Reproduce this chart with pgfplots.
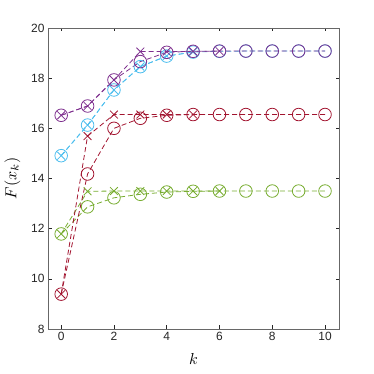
\documentclass[border=0pt]{standalone}
\usepackage{fontspec}
\setmainfont{Liberation Sans}
\usepackage{graphicx}
\usepackage{pgfplots}
\pgfplotsset{compat=1.18}
\definecolor{mpurple}{rgb}{0.494,0.184,0.556}
\definecolor{mcyan}{rgb}{0.301,0.745,0.933}
\definecolor{mred}{rgb}{0.635,0.078,0.184}
\definecolor{mgreen}{rgb}{0.466,0.674,0.188}
\definecolor{axgray}{rgb}{0.15,0.15,0.15}

\begin{document}
\begin{tikzpicture}[x=1bp,y=1bp]
\begin{axis}[
  scale only axis, width=291bp, height=301bp,
  xmin=-0.5, xmax=10.53, ymin=8, ymax=20,
  xtick={0,2,...,10}, ytick={8,10,...,20},
  tick align=inside, major tick length=3.5bp,
  tick style={axgray, line width=0.5bp},
  axis line style={axgray!70, line width=0.7bp},
  ticklabel style={font=\fontsize{12}{14}\selectfont, text=axgray},
  /pgf/number format/assume math mode=true,
  xlabel={\scalebox{1.6}{$k$}},
  ylabel={\scalebox{1.6}{$F(x_k)$}},
  xlabel style={yshift=-6bp},
  ylabel style={yshift=4bp},
  every axis plot/.append style={line width=0.8bp, dash pattern=on 5bp off 3bp},
  mark options={solid, line width=0.8bp},
  clip=false,
]
% cyan
\addplot[mcyan, mark=o, mark size=6.3bp] coordinates
  {(0,14.91) (1,16.13) (2,17.53) (3,18.46) (4,18.88) (5,19.04) (6,19.07) (7,19.08) (8,19.08) (9,19.08) (10,19.08)};
\addplot[mcyan, mark=x, mark size=5.5bp] coordinates
  {(0,14.91) (1,16.13) (2,17.53) (3,18.46) (4,18.88) (5,19.04)};
% purple
\addplot[mpurple, mark=o, mark size=6.3bp] coordinates
  {(0,16.52) (1,16.89) (2,17.93) (3,18.66) (4,19.03) (5,19.07) (6,19.08) (7,19.08) (8,19.08) (9,19.08) (10,19.08)};
\addplot[mpurple, mark=x, mark size=5.5bp] coordinates
  {(0,16.52) (1,16.89) (2,17.93) (3,19.06) (4,19.06) (5,19.07) (6,19.08)};
% green
\addplot[mgreen, mark=o, mark size=6.3bp] coordinates
  {(0,11.79) (1,12.87) (2,13.23) (3,13.37) (4,13.46) (5,13.49) (6,13.5) (7,13.5) (8,13.5) (9,13.5) (10,13.5)};
\addplot[mgreen, mark=x, mark size=5.5bp] coordinates
  {(0,11.79) (1,13.49) (2,13.5) (3,13.5) (4,13.5) (5,13.5) (6,13.5)};
% red
\addplot[mred, mark=o, mark size=6.3bp] coordinates
  {(0,9.39) (1,14.18) (2,16.0) (3,16.4) (4,16.52) (5,16.55) (6,16.55) (7,16.55) (8,16.55) (9,16.55) (10,16.55)};
\addplot[mred, mark=x, mark size=5.5bp] coordinates
  {(0,9.39) (1,15.69) (2,16.55) (3,16.55) (4,16.55) (5,16.55)};
\end{axis}
\path ([shift={(-48bp,-45bp)}]current axis.south west) rectangle ++(374bp,374bp);
\end{tikzpicture}
\end{document}
